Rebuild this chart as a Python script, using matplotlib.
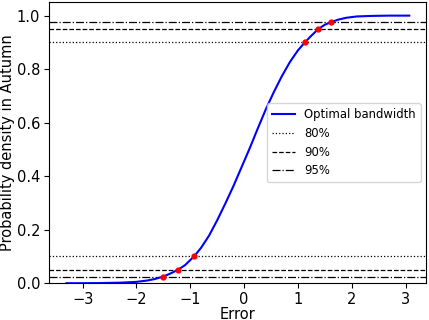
import matplotlib
matplotlib.use("Agg")
import matplotlib.pyplot as plt

# CDF curve
curve_x = [-3.30, -3.0, -2.7, -2.3, -2.0, -1.80, -1.65, -1.50, -1.36, -1.23, -1.10,
           -0.93, -0.80, -0.65, -0.50, -0.35, -0.20, -0.05, 0.10, 0.25, 0.40, 0.55,
           0.70, 0.85, 1.00, 1.13, 1.25, 1.38, 1.50, 1.61, 1.75, 1.90, 2.10, 2.40,
           2.70, 3.07]
curve_y = [0.000, 0.000, 0.0005, 0.002, 0.005, 0.010, 0.016, 0.025, 0.037, 0.050, 0.067,
           0.100, 0.132, 0.178, 0.235, 0.297, 0.362, 0.432, 0.502, 0.576, 0.648, 0.713,
           0.773, 0.826, 0.870, 0.900, 0.925, 0.950, 0.966, 0.975, 0.985, 0.992, 0.997, 0.999,
           1.000, 1.000]

# quantile points (red dots)
quant_x = [-1.50, -1.23, -0.93, 1.13, 1.38, 1.61]
quant_y = [0.025, 0.05, 0.10, 0.90, 0.95, 0.975]

# interval levels
levels = ["80%", "90%", "95%"]
lower = [0.10, 0.05, 0.025]
upper = [0.90, 0.95, 0.975]
styles = [":", "--", "-."]

fig = plt.figure(figsize=(4.29, 3.20), dpi=100)
ax = fig.add_axes([0.115, 0.115, 0.879, 0.878])

ax.plot(curve_x, curve_y, color="blue", lw=1.5, label="Optimal bandwidth", zorder=3)
for lab, lo, up, ls in zip(levels, lower, upper, styles):
    ax.axhline(lo, color="black", ls=ls, lw=0.9, label=lab, zorder=2)
    ax.axhline(up, color="black", ls=ls, lw=0.9, zorder=2)
ax.plot(quant_x, quant_y, "o", color="red", ms=3.5, zorder=4)

ax.set_ylim(0, 1.05)
ax.set_xticks([-3, -2, -1, 0, 1, 2, 3])
ax.set_yticks([0.0, 0.2, 0.4, 0.6, 0.8, 1.0])
ax.set_xlabel("Error", fontsize=10.5, labelpad=-0.5)
ax.set_ylabel("Probability density in Autumn", fontsize=10.5, labelpad=1.5)
ax.tick_params(labelsize=10.5, pad=3)
ax.legend(loc="center right", fontsize=8.4)

fig.savefig("out.png", dpi=100)
